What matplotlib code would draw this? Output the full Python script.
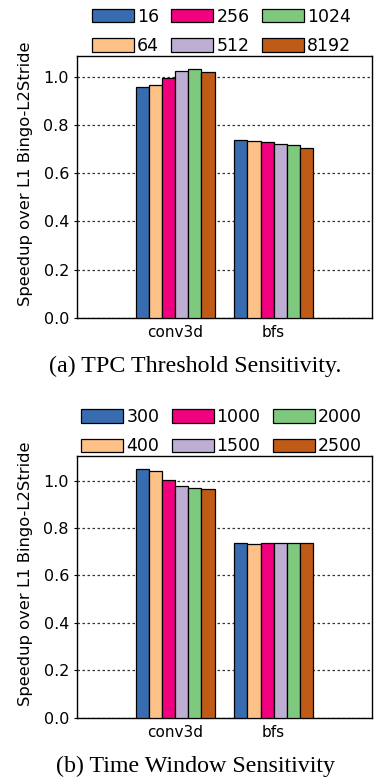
import matplotlib
matplotlib.use("Agg")
import matplotlib.pyplot as plt
import numpy as np

benchmarks = ["conv3d", "bfs"]

tpc_labels = ["16", "64", "256", "512", "1024", "8192"]
tpc_conv3d = [0.956, 0.967, 0.996, 1.022, 1.032, 1.019]
tpc_bfs = [0.737, 0.734, 0.730, 0.722, 0.718, 0.703]

tw_labels = ["300", "400", "1000", "1500", "2000", "2500"]
tw_conv3d = [1.049, 1.040, 1.004, 0.979, 0.968, 0.966]
tw_bfs = [0.735, 0.733, 0.736, 0.736, 0.735, 0.737]

colors = ["#386cb0", "#fdc086", "#f0027f", "#beaed4", "#7fc97f", "#bf5b17"]

ylabel = "Speedup over L1 Bingo-L2Stride"
caption_a = "(a) TPC Threshold Sensitivity."
caption_b = "(b) Time Window Sensitivity"

plt.rcParams['font.family'] = ['DejaVu Sans']

fig = plt.figure(figsize=(3.9, 7.83), dpi=100)

def draw(ax, labels, conv, bfs):
    n = len(labels)
    w = 0.8 / n
    x = np.arange(len(benchmarks))
    for i in range(n):
        vals = [conv[i], bfs[i]]
        ax.bar(x - 0.4 + w * (i + 0.5), vals, width=w, color=colors[i],
               edgecolor="black", linewidth=0.9, label=labels[i], zorder=3)
    ax.set_xlim(-1, 2)
    ax.set_xticks(x)
    ax.set_xticklabels(benchmarks, fontsize=11)
    ax.set_yticks([0.0, 0.2, 0.4, 0.6, 0.8, 1.0])
    ax.set_yticklabels(["0.0", "0.2", "0.4", "0.6", "0.8", "1.0"], fontsize=11.5)
    ax.tick_params(axis="y", length=2.2, width=0.8, pad=3.5)
    ax.tick_params(axis="x", length=0, pad=5)
    ax.yaxis.grid(True, linestyle=(0, (2, 2)), color="#333333", linewidth=0.9, zorder=0)
    ax.set_axisbelow(True)
    ax.set_ylabel(ylabel, fontsize=11.8, labelpad=3)
    ax.yaxis.set_label_coords(-0.15, 0.55)
    for s in ax.spines.values():
        s.set_linewidth(1.0)
    ax.legend(ncol=3, loc="lower center", bbox_to_anchor=(0.49, 0.995),
              frameon=False, fontsize=12.5, handlelength=2.42, handleheight=0.8,
              handletextpad=0.17, columnspacing=0.7, labelspacing=0.65,
              borderaxespad=0.15, borderpad=0.0)

ax1 = fig.add_axes([0.197, 0.594, 0.757, 0.334])
draw(ax1, tpc_labels, tpc_conv3d, tpc_bfs)
ax2 = fig.add_axes([0.197, 0.0834, 0.757, 0.3336])
draw(ax2, tw_labels, tw_conv3d, tw_bfs)

fig.text(0.5, 1 - 366 / 783, caption_a, ha="center", va="center",
         fontsize=17.3, family="Liberation Serif")
fig.text(0.5, 1 - 766 / 783, caption_b, ha="center", va="center",
         fontsize=17.3, family="Liberation Serif")

fig.savefig("out.png", dpi=100)
